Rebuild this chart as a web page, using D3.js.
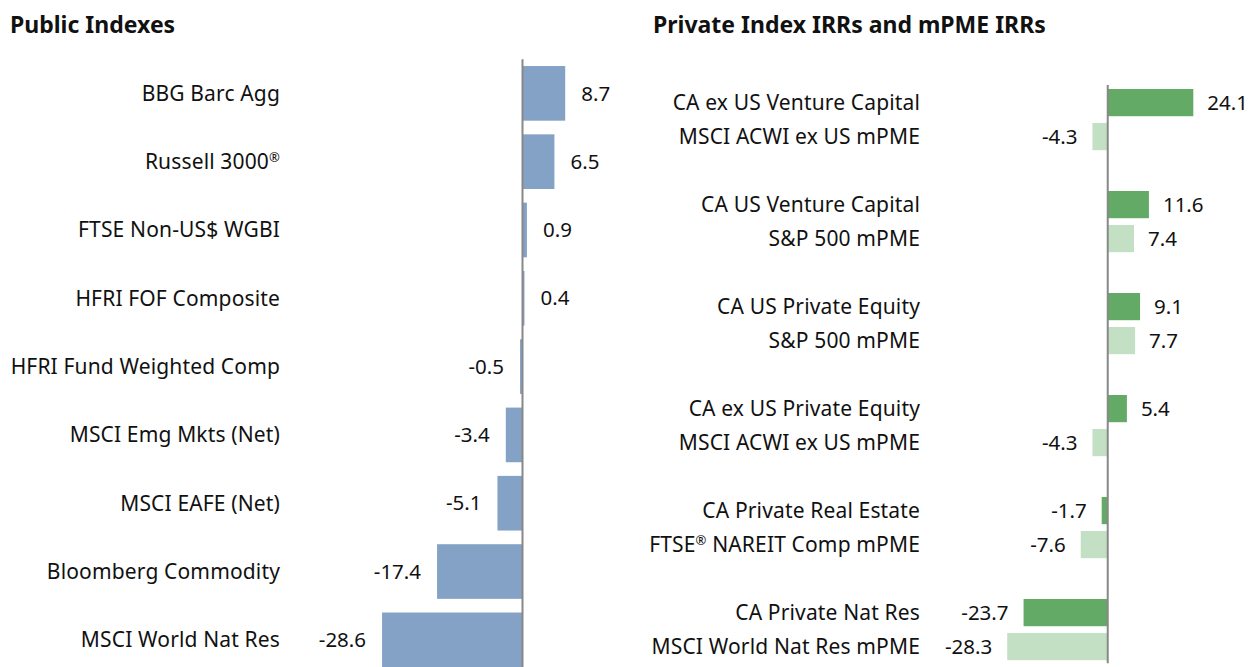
<!DOCTYPE html>
<html>
<head>
  <meta charset="utf-8">
  <script src="https://d3js.org/d3.v7.min.js"></script>
  <style>
    body { margin: 0; background: #fff; }
    text { font-family: "Noto Sans", sans-serif; fill: #111; }
    .title { font-weight: bold; font-size: 23px; }
    .label { font-size: 21px; letter-spacing: 0.15px; }
    .value { font-size: 20.5px; }
    .reg { font-size: 13px; }
  </style>
</head>
<body>
  <script>
    // Public indexes
    const publicNames = ["BBG Barc Agg", "Russell 3000\u00AE", "FTSE Non-US$ WGBI", "HFRI FOF Composite",
      "HFRI Fund Weighted Comp", "MSCI Emg Mkts (Net)", "MSCI EAFE (Net)", "Bloomberg Commodity", "MSCI World Nat Res"];
    const publicValues = [8.7, 6.5, 0.9, 0.4, -0.5, -3.4, -5.1, -17.4, -28.6];

    // Private index IRRs and matching mPME IRRs
    const privateNames = ["CA ex US Venture Capital", "CA US Venture Capital", "CA US Private Equity",
      "CA ex US Private Equity", "CA Private Real Estate", "CA Private Nat Res"];
    const privateValues = [24.1, 11.6, 9.1, 5.4, -1.7, -23.7];
    const mpmeNames = ["MSCI ACWI ex US mPME", "S&P 500 mPME", "S&P 500 mPME",
      "MSCI ACWI ex US mPME", "FTSE\u00AE NAREIT Comp mPME", "MSCI World Nat Res mPME"];
    const mpmeValues = [-4.3, 7.4, 7.7, -4.3, -7.6, -28.3];

    const w = 1251;
    const h = 667;
    const fmt = d => d.toFixed(1);

    // write a label, putting the ® sign up as a small superscript
    function writeLabel(sel, name) {
      const parts = name.split("\u00AE");
      parts.forEach((p, i) => {
        if (i > 0) {
          sel.append("tspan").attr("class", "reg").attr("baseline-shift", "55%").text("\u00AE");
        }
        if (p.length) sel.append("tspan").text(p);
      });
    }

    const svg = d3.select("body")
      .append("svg")
      .attr("width", w)
      .attr("height", h);

    // ---- left panel ----
    const xL = d3.scaleLinear().domain([-30, 10]).range([375.2, 571.6]);
    const yL = d3.scaleBand().domain(d3.range(publicNames.length))
      .range([59.2, 674]).paddingInner(0.2).paddingOuter(0.1);

    svg.append("text").attr("class", "title").attr("x", 10).attr("y", 32.5).text("Public Indexes");

    svg.selectAll(".pubbar")
      .data(publicValues)
      .enter()
      .append("rect")
      .attr("class", "pubbar")
      .attr("x", d => xL(Math.min(0, d)))
      .attr("y", (d, i) => yL(i))
      .attr("width", d => Math.abs(xL(d) - xL(0)))
      .attr("height", yL.bandwidth())
      .attr("fill", "#84a2c5");

    svg.selectAll(".publabel")
      .data(publicNames)
      .enter()
      .append("text")
      .attr("class", "label publabel")
      .attr("x", 280)
      .attr("y", (d, i) => yL(i) + yL.bandwidth() / 2)
      .attr("dy", "0.35em")
      .attr("text-anchor", "end")
      .each(function(d) { writeLabel(d3.select(this), d); });

    svg.selectAll(".pubval")
      .data(publicValues)
      .enter()
      .append("text")
      .attr("class", "value pubval")
      .attr("x", d => d >= 0 ? xL(d) + 16 : xL(d) - 16)
      .attr("y", (d, i) => yL(i) + yL.bandwidth() / 2)
      .attr("dy", "0.35em")
      .attr("text-anchor", d => d >= 0 ? "start" : "end")
      .text(fmt);

    svg.append("line")
      .attr("x1", xL(0)).attr("x2", xL(0))
      .attr("y1", 59.2).attr("y2", 674)
      .attr("stroke", "#888").attr("stroke-width", 2);

    // ---- right panel ----
    const xR = d3.scaleLinear().domain([-30, 25]).range([1001.2, 1196.5]);
    // three slots per group: index, mPME, gap
    const yR = d3.scaleBand().domain(d3.range(privateNames.length * 3))
      .range([85.6, 697.6]).paddingInner(0.2).paddingOuter(0.1);

    const rows = [];
    privateNames.forEach((name, i) => {
      rows.push({ name: name, value: privateValues[i], slot: i * 3, color: "#62aa66" });
      rows.push({ name: mpmeNames[i], value: mpmeValues[i], slot: i * 3 + 1, color: "#c3dfc4" });
    });

    svg.append("text").attr("class", "title").attr("x", 653).attr("y", 32.5).text("Private Index IRRs and mPME IRRs");

    svg.selectAll(".privbar")
      .data(rows)
      .enter()
      .append("rect")
      .attr("class", "privbar")
      .attr("x", d => xR(Math.min(0, d.value)))
      .attr("y", d => yR(d.slot))
      .attr("width", d => Math.abs(xR(d.value) - xR(0)))
      .attr("height", yR.bandwidth())
      .attr("fill", d => d.color);

    svg.selectAll(".privlabel")
      .data(rows)
      .enter()
      .append("text")
      .attr("class", "label privlabel")
      .attr("x", 920)
      .attr("y", d => yR(d.slot) + yR.bandwidth() / 2)
      .attr("dy", "0.35em")
      .attr("text-anchor", "end")
      .each(function(d) { writeLabel(d3.select(this), d.name); });

    svg.selectAll(".privval")
      .data(rows)
      .enter()
      .append("text")
      .attr("class", "value privval")
      .attr("x", d => d.value >= 0 ? xR(d.value) + 14 : xR(d.value) - 15)
      .attr("y", d => yR(d.slot) + yR.bandwidth() / 2)
      .attr("dy", "0.35em")
      .attr("text-anchor", d => d.value >= 0 ? "start" : "end")
      .text(d => fmt(d.value));

    svg.append("line")
      .attr("x1", xR(0)).attr("x2", xR(0))
      .attr("y1", 85).attr("y2", yR(16) + yR.bandwidth() + 3)
      .attr("stroke", "#888").attr("stroke-width", 2);
  </script>
</body>
</html>
